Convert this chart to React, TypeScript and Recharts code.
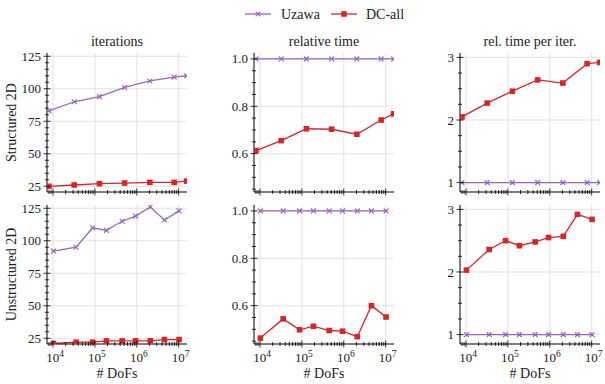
import React from "react";
import { LineChart, Line, XAxis, YAxis, CartesianGrid } from "recharts";

const FONT = "Liberation Serif";
const UZAWA_COLOR = "#9467bd";
const DC_COLOR = "#d62728";
const GRID = "#dcdcdc";

const seriesNames = ["Uzawa", "DC-all"];
const columnTitles = ["iterations", "relative time", "rel. time per iter."];
const rowTitles = ["Structured 2D", "Unstructured 2D"];
const xLabel = "# DoFs";

// degrees of freedom
const dofsStructured = [8000, 32000, 128000, 512000, 2050000, 7800000, 15500000];
const dofsUnstructured = [10200, 35700, 88000, 188000, 448000, 935000, 2100000, 4570000, 10200000];

// iterations
const itStructUzawa = [83, 90, 94, 101, 106, 109, 110];
const itStructDC = [25, 26, 27, 27.5, 28, 28, 29];
const itUnstrUzawa = [92, 95, 110, 108, 115, 119, 126, 116, 123];
const itUnstrDC = [21, 22, 22, 23, 23, 23, 23, 24, 24];

// relative time
const relStructUzawa = [1, 1, 1, 1, 1, 1, 1];
const relStructDC = [0.613, 0.655, 0.705, 0.703, 0.682, 0.742, 0.768];
const relUnstrUzawa = [1, 1, 1, 1, 1, 1, 1, 1, 1];
const relUnstrDC = [0.463, 0.544, 0.498, 0.513, 0.495, 0.492, 0.469, 0.6, 0.552];

// relative time per iteration
const perItStructUzawa = [1, 1, 1, 1, 1, 1, 1];
const perItStructDC = [2.05, 2.27, 2.46, 2.64, 2.59, 2.9, 2.92];
const perItUnstrUzawa = [1, 1, 1, 1, 1, 1, 1, 1, 1];
const perItUnstrDC = [2.03, 2.36, 2.5, 2.42, 2.48, 2.55, 2.57, 2.92, 2.84];

const xDomain = [7180, 15800000];
const xMajorTicks = [10000, 100000, 1000000, 10000000];
const xMajorExp = ["4", "5", "6", "7"];
const xMinorTicks = [
  8000, 9000,
  20000, 30000, 40000, 50000, 60000, 70000, 80000, 90000,
  200000, 300000, 400000, 500000, 600000, 700000, 800000, 900000,
  2000000, 3000000, 4000000, 5000000, 6000000, 7000000, 8000000, 9000000,
];

const yDomains = [[20.6, 127.5], [0.438, 1.025], [0.85, 3.07]];
const yMajorTicks = [[25, 50, 75, 100, 125], [0.6, 0.8, 1.0], [1, 2, 3]];
const yMinorTicks = [
  [30, 35, 40, 45, 55, 60, 65, 70, 80, 85, 90, 95, 105, 110, 115, 120],
  [0.45, 0.5, 0.55, 0.65, 0.7, 0.75, 0.85, 0.9, 0.95],
  [1.25, 1.5, 1.75, 2.25, 2.5, 2.75],
];
const yLabel = [(v: number) => String(v), (v: number) => v.toFixed(1), (v: number) => String(v)];

const colLeft = [47, 254, 460];
const rowTop = [53, 205];
const PW = 140;
const PH = 139;

const makeRows = (x: number[], a: number[], b: number[]) =>
  x.map((d, i) => ({ dofs: d, uzawa: a[i], dc: b[i] }));

const panels = [
  [
    makeRows(dofsStructured, itStructUzawa, itStructDC),
    makeRows(dofsStructured, relStructUzawa, relStructDC),
    makeRows(dofsStructured, perItStructUzawa, perItStructDC),
  ],
  [
    makeRows(dofsUnstructured, itUnstrUzawa, itUnstrDC),
    makeRows(dofsUnstructured, relUnstrUzawa, relUnstrDC),
    makeRows(dofsUnstructured, perItUnstrUzawa, perItUnstrDC),
  ],
];

const isIn = (list: number[], v: number) => list.some((m) => Math.abs(m - v) < 1e-9 * Math.max(1, Math.abs(m)));

const crossDot = (p: any) => {
  const { cx, cy } = p;
  const s = 2.4;
  return (
    <path
      key={`x-${cx}-${cy}`}
      d={`M${cx - s},${cy - s}L${cx + s},${cy + s}M${cx - s},${cy + s}L${cx + s},${cy - s}`}
      stroke={UZAWA_COLOR}
      strokeWidth={1.2}
      fill="none"
    />
  );
};

const squareDot = (p: any) => {
  const { cx, cy } = p;
  return <rect key={`s-${cx}-${cy}`} x={cx - 2.8} y={cy - 2.8} width={5.6} height={5.6} fill={DC_COLOR} />;
};

function Panel({ row, col }: { row: number; col: number }) {
  const yMajor = yMajorTicks[col];
  const fmt = yLabel[col];
  const showX = row === 1;

  const xTick = (p: any) => {
    const v = p.payload.value;
    const major = isIn(xMajorTicks, v);
    const len = major ? 3.5 : 2;
    const idx = xMajorTicks.findIndex((m) => m === v);
    return (
      <g>
        <line x1={p.x} x2={p.x} y1={p.y - len} y2={p.y + len} stroke="#000" strokeWidth={0.8} />
        {major && showX && (
          <text x={p.x + 2} y={p.y + 18} textAnchor="middle" fontFamily={FONT} fontSize={13} fill="#222">
            10
            <tspan dy={-5} fontSize={9.5}>
              {xMajorExp[idx]}
            </tspan>
          </text>
        )}
      </g>
    );
  };

  const yTick = (p: any) => {
    const v = p.payload.value;
    const major = isIn(yMajor, v);
    const len = major ? 3.5 : 2;
    return (
      <g>
        <line x1={p.x - len} x2={p.x + len} y1={p.y} y2={p.y} stroke="#000" strokeWidth={0.8} />
        {major && (
          <text x={p.x - 6} y={p.y} dy="0.35em" textAnchor="end" fontFamily={FONT} fontSize={13} fill="#222">
            {fmt(v)}
          </text>
        )}
      </g>
    );
  };

  return (
    <div style={{ position: "absolute", left: colLeft[col] - 45, top: rowTop[row] - 15 }}>
      <LineChart
        width={45 + PW + 6}
        height={15 + PH + 35}
        data={panels[row][col]}
        margin={{ top: 15, right: 6, bottom: 0, left: 5 }}
      >
        <CartesianGrid
          xAxisId="b"
          yAxisId="l"
          verticalValues={xMajorTicks}
          horizontalValues={yMajor}
          stroke={GRID}
          strokeWidth={0.8}
        />
        <XAxis
          xAxisId="b"
          dataKey="dofs"
          type="number"
          scale="log"
          domain={xDomain}
          allowDataOverflow
          ticks={[...xMajorTicks, ...xMinorTicks]}
          interval={0}
          tickSize={0}
          tickMargin={0}
          tickLine={false}
          axisLine={{ stroke: "#000", strokeWidth: 1 }}
          height={35}
          tick={xTick}
        />
        <XAxis
          xAxisId="t"
          orientation="top"
          dataKey="dofs"
          type="number"
          scale="log"
          domain={xDomain}
          allowDataOverflow
          height={0}
          tick={false}
          tickLine={false}
          axisLine={{ stroke: "#000", strokeWidth: 1 }}
        />
        <YAxis
          yAxisId="l"
          type="number"
          domain={yDomains[col]}
          allowDataOverflow
          ticks={[...yMajor, ...yMinorTicks[col]]}
          interval={0}
          tickSize={0}
          tickMargin={0}
          tickLine={false}
          axisLine={{ stroke: "#000", strokeWidth: 1 }}
          width={40}
          tick={yTick}
        />
        <YAxis
          yAxisId="r"
          orientation="right"
          type="number"
          domain={yDomains[col]}
          allowDataOverflow
          width={0}
          tick={false}
          tickLine={false}
          axisLine={{ stroke: "#000", strokeWidth: 1 }}
        />
        <Line
          xAxisId="b"
          yAxisId="l"
          dataKey="uzawa"
          name={seriesNames[0]}
          stroke={UZAWA_COLOR}
          strokeWidth={1.3}
          dot={crossDot}
          activeDot={false}
          isAnimationActive={false}
        />
        <Line
          xAxisId="b"
          yAxisId="l"
          dataKey="dc"
          name={seriesNames[1]}
          stroke={DC_COLOR}
          strokeWidth={1.3}
          dot={squareDot}
          activeDot={false}
          isAnimationActive={false}
        />
      </LineChart>
    </div>
  );
}

export default function App() {
  const textProps = { fontFamily: FONT, fontSize: 14, fill: "#222" };
  return (
    <div style={{ position: "absolute", left: 0, top: 0, width: 605, height: 384, background: "#fff" }}>
      {[0, 1].map((r) => [0, 1, 2].map((c) => <Panel key={`${r}-${c}`} row={r} col={c} />))}
      <svg width={605} height={384} style={{ position: "absolute", left: 0, top: 0, pointerEvents: "none" }}>
        {/* legend */}
        <line x1={245} x2={271} y1={14} y2={14} stroke={UZAWA_COLOR} strokeWidth={1.3} />
        {crossDot({ cx: 258, cy: 14 })}
        <text x={281} y={14} dy="0.35em" {...textProps}>
          {seriesNames[0]}
        </text>
        <line x1={331} x2={357} y1={14} y2={14} stroke={DC_COLOR} strokeWidth={1.3} />
        {squareDot({ cx: 344, cy: 14 })}
        <text x={366} y={14} dy="0.35em" {...textProps}>
          {seriesNames[1]}
        </text>
        {columnTitles.map((t, c) => (
          <text key={t} x={colLeft[c] + PW / 2} y={41} dy="0.35em" textAnchor="middle" {...textProps}>
            {t}
          </text>
        ))}
        {rowTitles.map((t, r) => (
          <text
            key={t}
            transform={`translate(11, ${rowTop[r] + PH / 2}) rotate(-90)`}
            dy="0.35em"
            textAnchor="middle"
            {...textProps}
          >
            {t}
          </text>
        ))}
        {[0, 1, 2].map((c) => (
          <text key={c} x={colLeft[c] + PW / 2} y={373} dy="0.35em" textAnchor="middle" {...textProps}>
            {xLabel}
          </text>
        ))}
      </svg>
    </div>
  );
}
